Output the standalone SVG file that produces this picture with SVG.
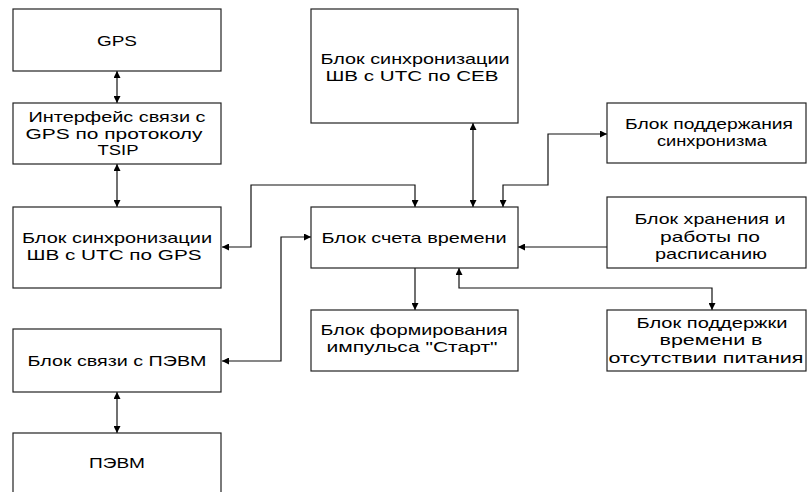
<svg xmlns="http://www.w3.org/2000/svg" width="807" height="492" viewBox="0 0 807 492">
<style>
.box{fill:#fff;stroke:#222;stroke-width:1.2}
.t{font-family:"Liberation Sans",Arial,sans-serif;font-size:15px;fill:#000;text-anchor:middle}
.c{fill:none;stroke:#111;stroke-width:1.2}
.bi{marker-start:url(#ah);marker-end:url(#ah)}
.uni{marker-end:url(#ah)}
</style>
<defs>
<marker id="ah" viewBox="0 0 10 10" refX="10" refY="5" markerWidth="9" markerHeight="7" markerUnits="userSpaceOnUse" orient="auto-start-reverse">
<path d="M0,0 L10,5 L0,10 z" fill="#000"/>
</marker>
</defs>
<rect width="807" height="492" fill="#fff"/>
<g id="connectors">
<path class="c bi" d="M117,71 V103"/>
<path class="c bi" d="M117,164 V207"/>
<path class="c bi" d="M117,392 V433"/>
<path class="c bi" d="M222,247 H251 V185 H415 V207"/>
<path class="c bi" d="M222,361 H281 V237 H311"/>
<path class="c bi" d="M473,123 V207"/>
<path class="c bi" d="M503,207 V185 H548 V134 H607"/>
<path class="c uni" d="M607,247 H518"/>
<path class="c uni" d="M415,268 V310"/>
<path class="c bi" d="M459,268 V288 H712 V310"/>
</g>
<g id="gps">
<rect class="box" x="13" y="9" width="208" height="62"/>
<text class="t" x="117" y="46" textLength="40" lengthAdjust="spacingAndGlyphs">GPS</text>
</g>
<g id="tsip">
<rect class="box" x="13" y="103" width="208" height="61"/>
<text class="t" x="117" y="122" textLength="177" lengthAdjust="spacingAndGlyphs">Интерфейс связи с</text>
<text class="t" x="114" y="139" textLength="177" lengthAdjust="spacingAndGlyphs">GPS по протоколу</text>
<text class="t" x="118" y="155" textLength="41" lengthAdjust="spacingAndGlyphs">TSIP</text>
</g>
<g id="syncgps">
<rect class="box" x="13" y="207" width="208" height="81"/>
<text class="t" x="117" y="243" textLength="190" lengthAdjust="spacingAndGlyphs">Блок синхронизации</text>
<text class="t" x="114" y="260" textLength="175" lengthAdjust="spacingAndGlyphs">ШВ с UTC по GPS</text>
</g>
<g id="pclink">
<rect class="box" x="13" y="329" width="208" height="63"/>
<text class="t" x="117" y="366" textLength="179" lengthAdjust="spacingAndGlyphs">Блок связи с ПЭВМ</text>
</g>
<g id="pc">
<rect class="box" x="13" y="433" width="208" height="70"/>
<text class="t" x="117" y="468" textLength="56" lengthAdjust="spacingAndGlyphs">ПЭВМ</text>
</g>
<g id="syncceb">
<rect class="box" x="311" y="9" width="207" height="114"/>
<text class="t" x="415" y="64" textLength="189" lengthAdjust="spacingAndGlyphs">Блок синхронизации</text>
<text class="t" x="412" y="81" textLength="173" lengthAdjust="spacingAndGlyphs">ШВ с UTC по СЕВ</text>
</g>
<g id="counter">
<rect class="box" x="311" y="207" width="207" height="61"/>
<text class="t" x="414" y="243" textLength="185" lengthAdjust="spacingAndGlyphs">Блок счета времени</text>
</g>
<g id="start">
<rect class="box" x="311" y="310" width="207" height="61"/>
<text class="t" x="414" y="335" textLength="187" lengthAdjust="spacingAndGlyphs">Блок формирования</text>
<text class="t" x="412" y="352" textLength="171" lengthAdjust="spacingAndGlyphs">импульса "Старт"</text>
</g>
<g id="syncsupport">
<rect class="box" x="607" y="103" width="199" height="60"/>
<text class="t" x="709" y="129" textLength="168" lengthAdjust="spacingAndGlyphs">Блок поддержания</text>
<text class="t" x="712" y="146" textLength="110" lengthAdjust="spacingAndGlyphs">синхронизма</text>
</g>
<g id="schedule">
<rect class="box" x="607" y="197" width="199" height="71"/>
<text class="t" x="710" y="224" textLength="151" lengthAdjust="spacingAndGlyphs">Блок хранения и</text>
<text class="t" x="710" y="242" textLength="100" lengthAdjust="spacingAndGlyphs">работы по</text>
<text class="t" x="711" y="259" textLength="112" lengthAdjust="spacingAndGlyphs">расписанию</text>
</g>
<g id="powerless">
<rect class="box" x="607" y="310" width="199" height="61"/>
<text class="t" x="712" y="328" textLength="151" lengthAdjust="spacingAndGlyphs">Блок поддержки</text>
<text class="t" x="711" y="345" textLength="103" lengthAdjust="spacingAndGlyphs">времени в</text>
<text class="t" x="706" y="363" textLength="195" lengthAdjust="spacingAndGlyphs">отсутствии питания</text>
</g>
</svg>
